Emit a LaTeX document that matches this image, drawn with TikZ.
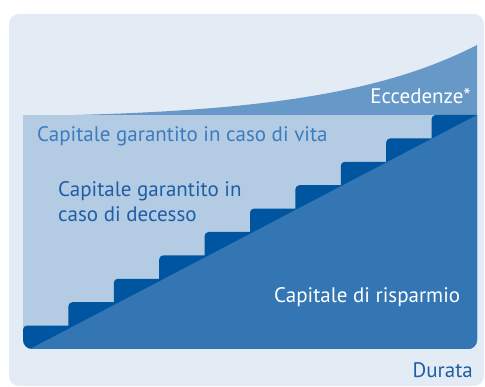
\documentclass[tikz,border=0pt]{standalone}
\usepackage{fontspec}
\setmainfont{PT Sans}
\usepackage{tikz}
\usetikzlibrary{positioning}
\definecolor{panelbg}{HTML}{E3ECF5}
\definecolor{lightblue}{HTML}{B3CBE3}
\definecolor{midblue}{HTML}{6699C8}
\definecolor{stepblue}{HTML}{0055A0}
\definecolor{saveblue}{HTML}{3476B4}
\definecolor{vitatext}{HTML}{3B7CBE}
\definecolor{decessotext}{HTML}{1E5EA7}
\tikzstyle{label} = [inner sep=0pt, font=\fontsize{21}{25.5}\selectfont, align=left]

\begin{document}
\begin{tikzpicture}[x=1pt, y=1pt]
 \useasboundingbox (0,0) rectangle (485,387);
 \fill[panelbg, rounded corners=10pt] (9,1) rectangle (484,373);
 \fill[midblue] (23,271) .. controls (250,274) and (380,292) .. (477,342) -- (477,271) -- cycle;
 \begin{scope}
  \clip (23,290) [rounded corners=9pt] -- (23,38) -- (477,38) [sharp corners] -- (477,290) -- cycle;
  \fill[lightblue] (23,38) rectangle (477,272);
  \foreach \k in {0,...,9}
   \fill[stepblue] ({23+45.4*\k},30) [rounded corners=4pt] -- ({23+45.4*\k},{38+23.4*(\k+1)}) [sharp corners] -- ({29+45.4*(\k+1)},{38+23.4*(\k+1)}) -- ({29+45.4*(\k+1)},30) -- cycle;
  \fill[saveblue] (30,38) -- (477,272) -- (485,272) -- (485,30) -- (30,30) -- cycle;
 \end{scope}
 \node (ecc) [label, text=white, anchor=base east] at (471,283) {Eccedenze*};
 \node (vita) [label, text=vitatext, anchor=base west] at (37,245) {Capitale garantito in caso di vita};
 \node (decesso) [label, text=decessotext, anchor=base west] at (58,165) {Capitale garantito in\\caso di decesso};
 \node (risparmio) [label, text=white, anchor=base west] at (274,84) {Capitale di risparmio};
 \node (durata) [label, text=decessotext, anchor=base east] at (473,9) {Durata};
\end{tikzpicture}
\end{document}
